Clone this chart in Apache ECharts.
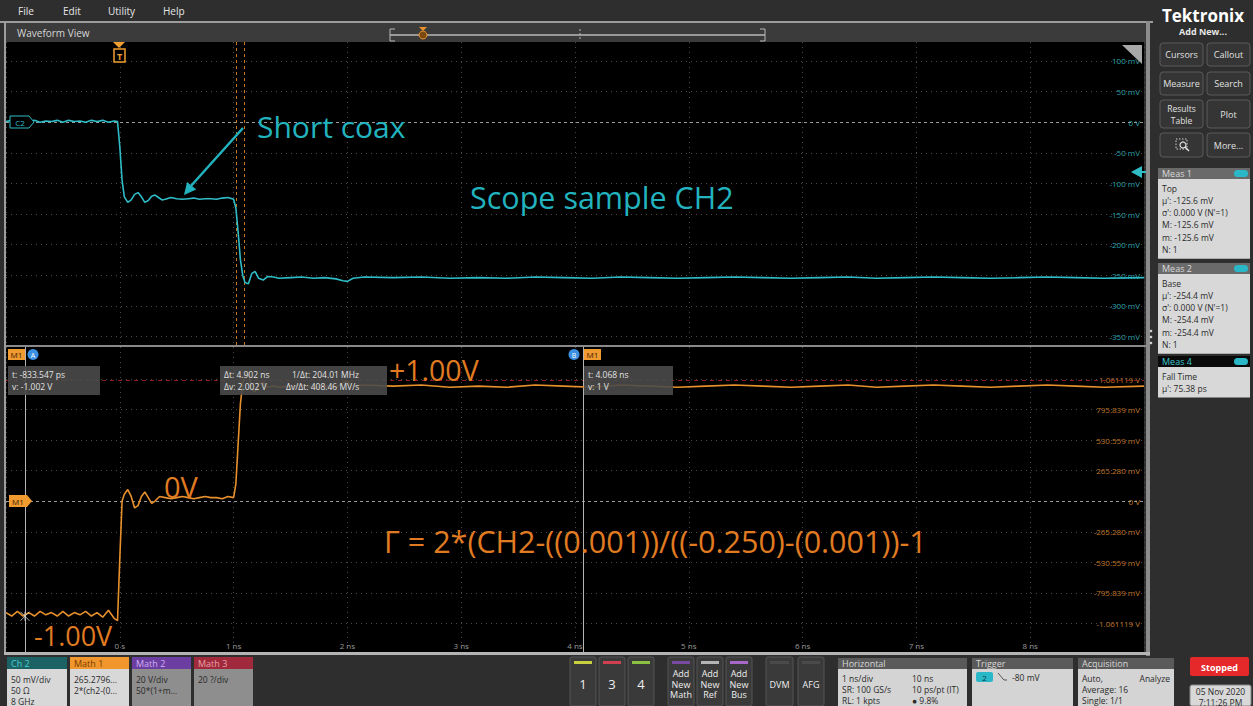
<!DOCTYPE html>
<html><head><meta charset="utf-8">
<script src="https://cdn.jsdelivr.net/npm/echarts@6/dist/echarts.min.js"></script>
<style>html,body{margin:0;padding:0;background:#2f2f2f;overflow:hidden}#c{width:1253px;height:706px}</style>
</head><body><div id="c"></div><script>
// ---------------- DATA ----------------
// CH2 (upper pane): time in ns, value in mV
const ch2Time = [-1.00,-0.95,-0.90,-0.85,-0.80,-0.75,-0.70,-0.65,-0.60,-0.55,-0.50,-0.45,-0.40,-0.35,-0.30,-0.25,-0.20,-0.15,-0.10,-0.05,-0.02,
  0.00,0.02,0.04,0.07,0.10,0.13,0.16,0.19,0.22,0.25,0.28,0.31,0.34,0.37,0.40,0.45,0.50,0.55,0.60,0.65,0.70,0.75,0.80,0.85,0.90,0.95,1.00,
  1.02,1.04,1.06,1.08,1.10,1.13,1.16,1.19,1.22,1.26,1.30,1.35,1.40,1.50,1.60,1.70,1.80,1.90,1.96,2.00,2.05,2.15,
  2.40,2.65,2.90,3.15,3.40,3.65,3.90,4.15,4.40,4.65,4.90,5.15,5.40,5.65,5.90,6.15,6.40,6.65,6.90,7.15,7.40,7.65,7.90,8.15,8.40,8.65,9.00];
const ch2mV = [1,3,0,3,1,3,0,2,1,3,0,3,1,2,0,3,1,3,0,2,1,
  -40,-95,-122,-131,-127,-118,-115,-122,-131,-128,-121,-119,-123,-127,-126,-123,-125,-126,-125,-124,-126,-125,-125,-126,-124,-123,-126,
  -140,-180,-225,-250,-262,-264,-247,-244,-255,-258,-252,-253,-255,-254,-253,-255,-254,-256,-259,-260,-255,-253,
  -254,-253,-255,-254,-255,-253,-254,-255,-253,-254,-255,-254,-253,-254,-255,-254,-253,-255,-254,-253,-254,-255,-254,-253,-254,-255,-254];
// Math 1 (lower pane): time in ns, value in V
const m1Time = [-1.00,-0.95,-0.90,-0.85,-0.80,-0.75,-0.70,-0.65,-0.60,-0.55,-0.50,-0.45,-0.40,-0.35,-0.30,-0.25,-0.20,-0.15,-0.10,-0.05,-0.02,
  0.00,0.02,0.04,0.07,0.10,0.13,0.16,0.19,0.22,0.25,0.28,0.31,0.35,0.40,0.45,0.50,0.55,0.60,0.65,0.70,0.75,0.80,0.85,0.90,0.95,1.00,
  1.02,1.04,1.06,1.08,1.10,1.13,1.16,1.19,1.22,1.26,1.30,1.35,1.40,1.50,1.60,1.70,1.80,1.90,1.96,2.00,2.05,2.15,
  2.40,2.65,2.90,3.15,3.40,3.65,3.90,4.15,4.40,4.65,4.90,5.15,5.40,5.65,5.90,6.15,6.40,6.65,6.90,7.15,7.40,7.65,7.90,8.15,8.40,8.65,9.00];
const m1V = [-0.97,-1.00,-0.96,-1.00,-0.97,-1.00,-0.96,-0.99,-0.97,-1.00,-0.96,-1.00,-0.97,-0.99,-0.96,-1.00,-0.97,-1.01,-0.95,-1.02,-1.04,
  -0.50,0.00,0.06,0.10,0.04,-0.06,-0.04,0.04,0.08,0.03,-0.02,0.00,0.04,0.03,0.02,0.03,0.04,0.03,0.02,0.03,0.04,0.03,0.03,0.02,0.04,0.03,
  0.15,0.50,0.85,1.02,1.10,1.12,0.97,0.95,1.02,1.03,0.99,1.00,0.99,1.00,1.01,0.99,1.00,0.99,1.03,1.04,1.00,1.01,
  1.00,1.01,0.99,1.00,0.99,1.01,1.00,0.99,1.01,1.00,0.99,1.00,1.01,1.00,0.99,1.00,1.01,0.99,1.00,1.01,1.00,0.99,1.00,1.01,1.00,0.99,1.00];
// Tick labels
const timeTickValues = [0,1,2,3,4,5,6,7,8];
const timeTickLabels = ['0 s','1 ns','2 ns','3 ns','4 ns','5 ns','6 ns','7 ns','8 ns'];
const ch2TickValues = [100,50,0,-50,-100,-150,-200,-250,-300,-350];
const ch2TickLabels = ['100 mV','50 mV','0 V','-50 mV','-100 mV','-150 mV','-200 mV','-250 mV','-300 mV','-350 mV'];
const m1TickValues = [1.061119,0.795839,0.530559,0.265280,0,-0.265280,-0.530559,-0.795839,-1.061119];
const m1TickLabels = ['1.061119 V','795.839 mV','530.559 mV','265.280 mV','0 V','-265.280 mV','-530.559 mV','-795.839 mV','-1.061119 V'];
// Cursor readouts
const cursorA = {t:-0.833547, v:-1.002};
const cursorB = {t:4.068, v:1.0};
const fallMarks = [1.02, 1.09];

// ---------------- HELPERS ----------------
const FONT = '"Open Sans","Noto Sans",sans-serif';
const G = [];
function R(x,y,w,h,fill,o){o=o||{};G.push({type:'rect',silent:true,z:o.z||50,shape:{x:x,y:y,width:w,height:h,r:o.r||0},style:{fill:fill,stroke:o.stroke||null,lineWidth:o.lw||1,lineDash:o.dash||null,opacity:o.op==null?1:o.op}});}
function T(x,y,s,o){o=o||{};G.push({type:'text',silent:true,z:o.z||60,x:x,y:y,style:{text:s,fill:o.c||'#dddddd',font:(o.w||'normal')+' '+(o.s||9)+'px '+(o.f||FONT),lineHeight:o.lh||null,textAlign:o.a||'left',textVerticalAlign:o.v||'middle',align:o.a||'left',verticalAlign:o.v||'middle'}});}
function L(x1,y1,x2,y2,stroke,o){o=o||{};G.push({type:'line',silent:true,z:o.z||55,shape:{x1:x1,y1:y1,x2:x2,y2:y2},style:{stroke:stroke,lineWidth:o.lw||1,lineDash:o.dash||null}});}
function P(pts,fill,o){o=o||{};G.push({type:'polygon',silent:true,z:o.z||55,shape:{points:pts},style:{fill:fill,stroke:o.stroke||null,lineWidth:o.lw||1}});}
function C(cx,cy,r,fill,o){o=o||{};G.push({type:'circle',silent:true,z:o.z||55,shape:{cx:cx,cy:cy,r:r},style:{fill:fill,stroke:o.stroke||null,lineWidth:o.lw||1}});}

const CYAN='#2fbcc6', ORANGE='#e8912c', ORTXT='#e07b22', ANCY='#22b3bf';

// ---------- chrome: top ----------
R(0,0,1253,21,'#2e2e2e',{z:1});
T(18,11,'File',{c:'#e6e6e6',s:10});T(63,11,'Edit',{c:'#e6e6e6',s:10});T(108,11,'Utility',{c:'#e6e6e6',s:10});T(163,11,'Help',{c:'#e6e6e6',s:10});
R(0,21,1153,2,'#9c9c9c',{z:2});
R(6,23,1144,19,'#3b3b3b',{z:2});
T(17,33,'Waveform View',{c:'#d6d6d6',s:10});
// overview bar
L(390,35,765,35,'#b8b8b8',{lw:1.5});
L(390,29,390,41,'#b8b8b8');L(390,29,395,29,'#b8b8b8');L(390,41,395,41,'#b8b8b8');
L(765,29,765,41,'#b8b8b8');L(760,29,765,29,'#b8b8b8');L(760,41,765,41,'#b8b8b8');
L(580,29,580,41,'#b8b8b8',{dash:[2,2]});
P([[419,27],[427,27],[423,31]],'#e8902a');C(423,35,4,'#7a4a10',{stroke:'#e8902a'});
// frame
R(0,21,4,640,'#2e2e2e',{z:1});R(4,21,2,635,'#9c9c9c',{z:2});
R(1146,21,4,635,'#8c8c8c',{z:70});
R(4,652,1146,3,'#b4b4b4',{z:70});
// pane separator
R(6,345,1140,2,'#8a8a8a',{z:70});

// ---------- plot markers ----------
P([[113,42],[125,42],[119,48]],'#f0a030',{z:80});
R(114,49,11,13,'#000',{stroke:'#f0a030',lw:1.5,z:80});
T(119.5,56,'T',{c:'#f0a030',s:9,a:'center',w:'bold',z:81});
P([[10,116],[29,116],[34,122],[29,128],[10,128]],'#000',{stroke:CYAN,z:80});
T(20,122.5,'C2',{c:CYAN,s:8,a:'center',z:81});
P([[9,495],[27,495],[32,501],[27,507],[9,507]],'#f09a30',{z:80});
T(18,501.5,'M1',{c:'#3a2000',s:8,a:'center',z:81});
P([[1131,172],[1142,166],[1142,178]],CYAN,{z:80});L(1140,172,1146,172,CYAN,{lw:2,z:80});
P([[1122,45],[1142,45],[1142,64]],'#a8a8a8',{z:80});
C(1151,331,1.3,'#d0d0d0',{z:90});C(1151,337,1.3,'#d0d0d0',{z:90});C(1151,343,1.3,'#d0d0d0',{z:90});
// cursor tags
R(8,349,17,11,'#f09a30',{z:80});T(16.5,354.5,'M1',{c:'#3a2000',s:8,a:'center',z:81});
C(33,354.5,5.5,'#3a8fe0',{z:80});T(33,355,'A',{c:'#ffffff',s:7,a:'center',z:81});
C(574,354.5,5.5,'#3a8fe0',{z:80});T(574,355,'B',{c:'#ffffff',s:7,a:'center',z:81});
R(584,349,17,11,'#f09a30',{z:80});T(592.5,354.5,'M1',{c:'#3a2000',s:8,a:'center',z:81});
// readouts
R(8,366,92,29,'#4a4a4a',{op:0.9,z:82});
T(12,374,'t: -833.547 ps',{c:'#e2e2e2',s:8.5,z:83});T(12,386,'v: -1.002 V',{c:'#e2e2e2',s:8.5,z:83});
R(220,366,167,29,'#4a4a4a',{op:0.9,z:82});
T(224,374,'Δt: 4.902 ns',{c:'#e2e2e2',s:8.5,z:83});T(292,374,'1/Δt: 204.01 MHz',{c:'#e2e2e2',s:8.5,z:83});
T(224,386,'Δv: 2.002 V',{c:'#e2e2e2',s:8.5,z:83});T(286,386,'Δv/Δt: 408.46 MV/s',{c:'#e2e2e2',s:8.5,z:83});
R(584,366,89,29,'#4a4a4a',{op:0.9,z:82});
T(588,374,'t: 4.068 ns',{c:'#e2e2e2',s:8.5,z:83});T(588,386,'v: 1 V',{c:'#e2e2e2',s:8.5,z:83});

// ---------- annotations ----------
T(257,126,'Short coax',{c:ANCY,s:30,z:85});
L(243,128,190,187,ANCY,{lw:2.5,z:85});
P([[184,195],[196.3,189.6],[187.1,181.9]],ANCY,{z:85});
T(470,197,'Scope sample CH2',{c:ANCY,s:30.5,z:85});
T(389,370,'+1.00V',{c:ORTXT,s:28.5,z:85});
T(164,486,'0V',{c:ORTXT,s:29,z:85});
T(384,541,'Γ = 2*(CH2-((0.001))/((-0.250)-(0.001))-1',{c:ORTXT,s:30.5,z:85});
T(34,635,'-1.00V',{c:ORTXT,s:27,z:85});

// ---------- right panel ----------
R(1153,0,100,656,'#2e2e2e',{z:3});
T(1203,15,'Tektronix',{c:'#ffffff',s:17,w:'bold',a:'center'});
T(1203,31,'Add New...',{c:'#e6e6e6',s:9,a:'center',w:'bold'});
function btn(x,y,w,h,lines){R(x,y,w,h,'#353535',{stroke:'#5a5a5a',r:3,z:20});
  const n=lines.length;lines.forEach((s,i)=>T(x+w/2,y+h/2+(i-(n-1)/2)*12,s,{c:'#e0e0e0',s:(n>1?8.5:9),a:'center',z:21}));}
btn(1160,43,43,23,['Cursors']);btn(1207,43,43,23,['Callout']);
btn(1160,72,43,23,['Measure']);btn(1207,72,43,23,['Search']);
btn(1160,100,43,28,['Results','Table']);btn(1207,100,43,28,['Plot']);
btn(1160,133,43,24,[]);btn(1207,133,43,24,['More...']);
R(1176,139,11,10,'none',{stroke:'#cfcfcf',dash:[1.5,1.5],z:22});C(1183,145,3,'none',{stroke:'#e0e0e0',lw:1.2,z:22});L(1185,147,1189,151,'#e0e0e0',{lw:1.5,z:22});
function meas(y,title,lines,dark){
  R(1158,y,92,11,dark?'#0a0a0a':'#6a6a6a',{z:20});
  T(1162,y+5.5,title,{c:dark?'#3ac8d0':'#dadada',s:9,z:21});
  R(1234,y+2,14,7,'#2ab8c8',{r:3.5,z:21});
  const h=lines.length*12.3+6;
  R(1158,y+11,92,h,'#d8d8d8',{z:20});
  lines.forEach((s,i)=>T(1162,y+11+9+i*12.3,s,{c:'#2a2a2a',s:8.5,z:21}));
}
meas(168,'Meas 1',['Top',"μ': -125.6 mV","σ': 0.000 V (N'=1)",'M: -125.6 mV','m: -125.6 mV','N: 1']);
meas(263,'Meas 2',['Base',"μ': -254.4 mV","σ': 0.000 V (N'=1)",'M: -254.4 mV','m: -254.4 mV','N: 1']);
meas(356,'Meas 4',['Fall Time',"μ': 75.38 ps"],true);

// ---------- bottom bar ----------
R(0,655,1253,51,'#2e2e2e',{z:3});
function badge(x,w,title,hfill,hc,bfill,lines){
  R(x,657,w,12,hfill,{z:20});T(x+4,663,title,{c:hc,s:9,z:21});
  R(x,669,w,37,bfill,{z:20});
  lines.forEach((s,i)=>T(x+4,679+i*11,s,{c:'#2a2a2a',s:8.5,z:21}));
}
badge(7,60,'Ch 2','#1c6264','#46d0d4','#d8d8d8',['50 mV/div','50 Ω','8 GHz']);
badge(70,59,'Math 1','#f0962c','#7a3c00','#d8d8d8',['265.2796...','2*(ch2-(0...']);
badge(132,59,'Math 2','#6c3ea2','#cdb0f0','#8e8e8e',['20 V/div','50*(1+m...']);
badge(194,59,'Math 3','#a02a3c','#eaa0a8','#8e8e8e',['20 ?/div']);
function chbtn(x,w,stripe,label,sz){R(x,657,w,49,'#3a3a3a',{stroke:'#555555',r:2,z:20});
  R(x+4,661,w-8,3,stripe,{z:21});
  T(x+w/2,684,label,{c:'#eeeeee',s:sz||9,a:'center',lh:10.5,z:21});}
chbtn(570,26,'#c8d040','1',13);chbtn(599,26,'#d04050','3',13);chbtn(628,26,'#8cc040','4',13);
chbtn(668,26,'#7a4aa0','Add\nNew\nMath');chbtn(697,26,'#b4b4b4','Add\nNew\nRef');chbtn(726,26,'#a868c8','Add\nNew\nBus');
chbtn(766,27,'#4a4a4a','DVM');chbtn(798,26,'#4a4a4a','AFG');
function panel(x,w,title,rows){
  R(x,658,w,11,'#5a5a5a',{z:20});T(x+4,663.5,title,{c:'#d8d8d8',s:9,z:21});
  R(x,669,w,37,'#d4d4d4',{z:20});
  rows.forEach(r=>T(r[0],r[1],r[2],{c:'#2a2a2a',s:8.5,z:21,a:r[3]||'left'}));
}
panel(838,129,'Horizontal',[[842,678,'1 ns/div'],[912,678,'10 ns'],[842,689,'SR: 100 GS/s'],[912,689,'10 ps/pt (IT)'],[842,700,'RL: 1 kpts'],[912,700,'● 9.8%']]);
panel(972,101,'Trigger',[[1012,677,'-80 mV']]);
R(976,672,17,10,'#2ab8c8',{r:2,z:22});T(984.5,677.5,'2',{c:'#0a3a40',s:8,a:'center',z:23});
L(998,673,1004,680,'#555',{z:22});L(1004,680,1007,680,'#555',{z:22});
panel(1078,96,'Acquisition',[[1082,678,'Auto,'],[1170,678,'Analyze','right'],[1082,689,'Average: 16'],[1082,700,'Single: 1/1']]);
R(1190,657,59,19,'#e5282a',{r:2,z:20});T(1219.5,667,'Stopped',{c:'#ffffff',s:9,a:'center',w:'bold',z:21});
R(1190,685,61,21,'#d8d8d8',{stroke:'#888',r:2,z:20});
T(1220.5,691,'05 Nov 2020',{c:'#2a2a2a',s:8.5,a:'center',z:21});T(1220.5,702,'7:11:26 PM',{c:'#2a2a2a',s:8.5,a:'center',z:21});

// ---------------- CHART ----------------
function zip(a,b){return a.map((t,i)=>[t,b[i]]);}
function lookup(vals,labels){return function(v){for(let i=0;i<vals.length;i++){if(Math.abs(vals[i]-v)<1e-6)return labels[i];}return '';};}
const dotted = {color:'#4a4a4a',type:[1,4],width:1};
function xAx(g,showLbl){return {gridIndex:g,type:'value',min:-1,max:9,interval:1,
  axisLine:{show:false},axisTick:{show:false},
  axisLabel:{show:showLbl,inside:true,margin:3,color:'#9a9a9a',fontSize:8,fontFamily:FONT,
    formatter:lookup(timeTickValues,timeTickLabels)},
  splitLine:{show:true,lineStyle:dotted}};}
function yAx(g,min,max,vals,labels,color){return {gridIndex:g,type:'value',min:min,max:max,position:'right',
  axisLine:{show:false},axisTick:{show:false},splitLine:{show:false},
  axisLabel:{inside:true,margin:4,color:color,fontSize:8,fontFamily:FONT,customValues:vals,formatter:lookup(vals,labels)}};}
const ml = (data)=>({silent:true,symbol:['none','none'],label:{show:false},animation:false,data:data});

const option = {
  backgroundColor:'#2e2e2e',
  animation:false,
  graphic:{elements:G},
  grid:[
    {left:6,top:42,width:1138,height:303,show:true,backgroundColor:'#000000',borderWidth:0},
    {left:6,top:347,width:1138,height:305,show:true,backgroundColor:'#000000',borderWidth:0}
  ],
  xAxis:[xAx(0,false),xAx(1,true)],
  yAxis:[
    yAx(0,-364,131,ch2TickValues,ch2TickLabels,'#2aa6b2'),
    yAx(1,-1.313,1.34,m1TickValues,m1TickLabels,'#c47a2a')
  ],
  series:[
    {type:'line',name:'CH2',xAxisIndex:0,yAxisIndex:0,data:zip(ch2Time,ch2mV),showSymbol:false,
      lineStyle:{color:CYAN,width:1.6},itemStyle:{color:CYAN},z:10,
      markLine:{...ml([
        {yAxis:0,lineStyle:{color:'#9a9a9a',type:[3,3],width:1}},
        ...ch2TickValues.filter(v=>v!==0).map(v=>({yAxis:v,lineStyle:dotted})),
        ...fallMarks.map(t=>({xAxis:t,lineStyle:{color:'#c8781e',type:[3,3],width:1}}))
      ])}},
    {type:'line',name:'Math 1',xAxisIndex:1,yAxisIndex:1,data:zip(m1Time,m1V),showSymbol:false,
      lineStyle:{color:ORANGE,width:1.6},itemStyle:{color:ORANGE},z:10,
      markLine:{...ml([
        {yAxis:0,lineStyle:{color:'#9a9a9a',type:[3,3],width:1}},
        ...m1TickValues.filter(v=>v!==0).map(v=>({yAxis:v,lineStyle:dotted})),
        {yAxis:1.05,lineStyle:{color:'#8a1c1c',type:[4,4],width:1}},
        {xAxis:cursorA.t,lineStyle:{color:'#b4b4b4',type:'solid',width:1}},
        {xAxis:cursorB.t,lineStyle:{color:'#b4b4b4',type:'solid',width:1}}
      ])}},
    {type:'scatter',xAxisIndex:1,yAxisIndex:1,data:[[cursorA.t,cursorA.v]],symbol:'path://M0,0L10,10M10,0L0,10M5,0L5,10',symbolSize:9,
      itemStyle:{color:'none',borderColor:'#d8d8d8',borderWidth:1},z:12}
  ]
};
const chart = echarts.init(document.getElementById('c'),null,{renderer:'svg',width:1253,height:706});
chart.setOption(option);
</script></body></html>
